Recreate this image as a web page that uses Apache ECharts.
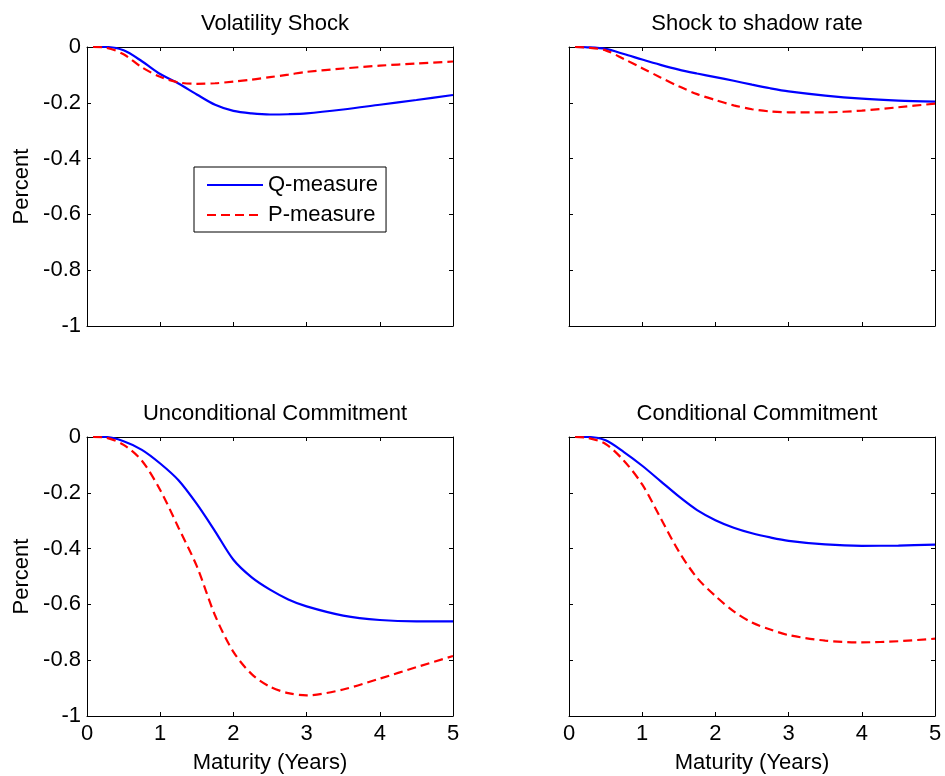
<!DOCTYPE html>
<html><head><meta charset="utf-8">
<script src="https://cdn.jsdelivr.net/npm/echarts@6/dist/echarts.min.js"></script>
<style>html,body{margin:0;padding:0;background:#fff}#c{width:945px;height:776px}</style>
</head><body><div id="c"></div>
<script>
// Maturity in years
const maturity = [0.083, 0.25, 0.5, 0.75, 1, 1.25, 1.5, 1.75, 2, 2.25, 2.5, 2.75, 3, 3.5, 4, 4.5, 5];

const panelTitles = ['Volatility Shock', 'Shock to shadow rate', 'Unconditional Commitment', 'Conditional Commitment'];
const seriesNames = ['Q-measure', 'P-measure'];
const xTickValues = [0, 1, 2, 3, 4, 5];
const yTickValues = [0, -0.2, -0.4, -0.6, -0.8, -1];
const yAxisName = 'Percent';
const xAxisName = 'Maturity (Years)';

// Volatility Shock
const volQ = [0, 0, -0.012, -0.051, -0.097, -0.131, -0.17, -0.207, -0.229, -0.238, -0.242, -0.241, -0.238, -0.224, -0.207, -0.19, -0.172];
const volP = [0, -0.002, -0.026, -0.073, -0.107, -0.127, -0.132, -0.13, -0.124, -0.117, -0.108, -0.099, -0.089, -0.077, -0.067, -0.059, -0.052];
// Shock to shadow rate
const shadowQ = [0, -0.001, -0.007, -0.025, -0.045, -0.064, -0.081, -0.095, -0.108, -0.121, -0.135, -0.148, -0.159, -0.174, -0.185, -0.192, -0.196];
const shadowP = [0, -0.002, -0.012, -0.043, -0.076, -0.109, -0.141, -0.169, -0.19, -0.209, -0.223, -0.231, -0.234, -0.234, -0.228, -0.216, -0.203];
// Unconditional Commitment
const uncondQ = [0, 0, -0.015, -0.046, -0.095, -0.155, -0.24, -0.338, -0.44, -0.503, -0.547, -0.582, -0.607, -0.64, -0.656, -0.661, -0.661];
const uncondP = [0, -0.002, -0.028, -0.085, -0.19, -0.325, -0.463, -0.64, -0.77, -0.85, -0.895, -0.918, -0.926, -0.905, -0.866, -0.825, -0.785];
// Conditional Commitment
const condQ = [0, 0, -0.012, -0.054, -0.103, -0.158, -0.213, -0.262, -0.298, -0.325, -0.345, -0.36, -0.372, -0.385, -0.39, -0.389, -0.386];
const condP = [0, -0.003, -0.025, -0.085, -0.17, -0.29, -0.41, -0.505, -0.57, -0.625, -0.665, -0.69, -0.71, -0.73, -0.736, -0.732, -0.723];

const panelData = [[volQ, volP], [shadowQ, shadowP], [uncondQ, uncondP], [condQ, condP]];

const FONT = '"Liberation Sans", Arial, Helvetica, sans-serif';
const grids = [
  {left: 87, top: 47, width: 366, height: 279},
  {left: 569, top: 47, width: 366, height: 279},
  {left: 87, top: 437, width: 366, height: 279},
  {left: 569, top: 437, width: 366, height: 279}
];

const chart = echarts.init(document.getElementById('c'), null, {renderer: 'canvas'});
const xAxes = [], yAxes = [], series = [], titles = [];
const lineColors = ['#0000ff', '#ff0000'];
const lineTypes = ['solid', [9, 5]];

grids.forEach((g, i) => {
  const isBottom = i >= 2, isLeft = i % 2 === 0;
  const tick = {show: true, inside: true, length: 4, lineStyle: {color: '#000', width: 1}};
  const aLine = {show: true, onZero: false, lineStyle: {color: '#000', width: 1}};
  xAxes.push({
    type: 'value', gridIndex: i, position: 'bottom', min: 0, max: 5, interval: 1,
    axisLine: aLine, axisTick: tick, splitLine: {show: false},
    axisLabel: {show: isBottom, color: '#000', fontFamily: FONT, fontSize: 22, margin: 7},
    name: isBottom ? xAxisName : '', nameLocation: 'middle', nameGap: 36,
    nameTextStyle: {color: '#000', fontFamily: FONT, fontSize: 22}
  });
  xAxes.push({
    type: 'value', gridIndex: i, position: 'top', min: 0, max: 5, interval: 1,
    axisLine: aLine, axisTick: tick, splitLine: {show: false}, axisLabel: {show: false}
  });
  yAxes.push({
    type: 'value', gridIndex: i, position: 'left', min: -1, max: 0, interval: 0.2,
    axisLine: aLine, axisTick: tick, splitLine: {show: false},
    axisLabel: {show: isLeft, color: '#000', fontFamily: FONT, fontSize: 22, margin: 6},
    name: isLeft ? yAxisName : '', nameLocation: 'middle', nameGap: 54, nameRotate: 90,
    nameTextStyle: {color: '#000', fontFamily: FONT, fontSize: 22}
  });
  yAxes.push({
    type: 'value', gridIndex: i, position: 'right', min: -1, max: 0, interval: 0.2,
    axisLine: aLine, axisTick: tick, splitLine: {show: false}, axisLabel: {show: false}
  });
  titles.push({
    text: panelTitles[i], left: g.left + g.width / 2, top: g.top - 39, textAlign: 'center',
    textStyle: {color: '#000', fontFamily: FONT, fontSize: 22, fontWeight: 'normal'}
  });
  panelData[i].forEach((vals, k) => {
    series.push({
      name: seriesNames[k], type: 'line', xAxisIndex: 2 * i, yAxisIndex: 2 * i,
      data: maturity.map((m, j) => [m, vals[j]]),
      smooth: 0.3, symbol: 'none', showSymbol: false,
      lineStyle: {color: lineColors[k], width: 2.2, type: lineTypes[k]},
      itemStyle: {color: lineColors[k]},
      z: 3 + k, animation: false
    });
  });
});

chart.setOption({
  animation: false,
  backgroundColor: '#fff',
  title: titles,
  grid: grids,
  xAxis: xAxes,
  yAxis: yAxes,
  legend: {
    data: seriesNames, orient: 'vertical', left: 194, top: 167,
    backgroundColor: '#fff', borderColor: '#000', borderWidth: 1, borderRadius: 0,
    padding: [7, 8, 6, 12], itemWidth: 56, itemHeight: 14, itemGap: 8,
    itemStyle: {color: 'rgba(0,0,0,0)', opacity: 0, borderWidth: 0},
    textStyle: {color: '#000', fontFamily: FONT, fontSize: 22, lineHeight: 22},
    selectedMode: false
  },
  series: series
});
</script></body></html>
